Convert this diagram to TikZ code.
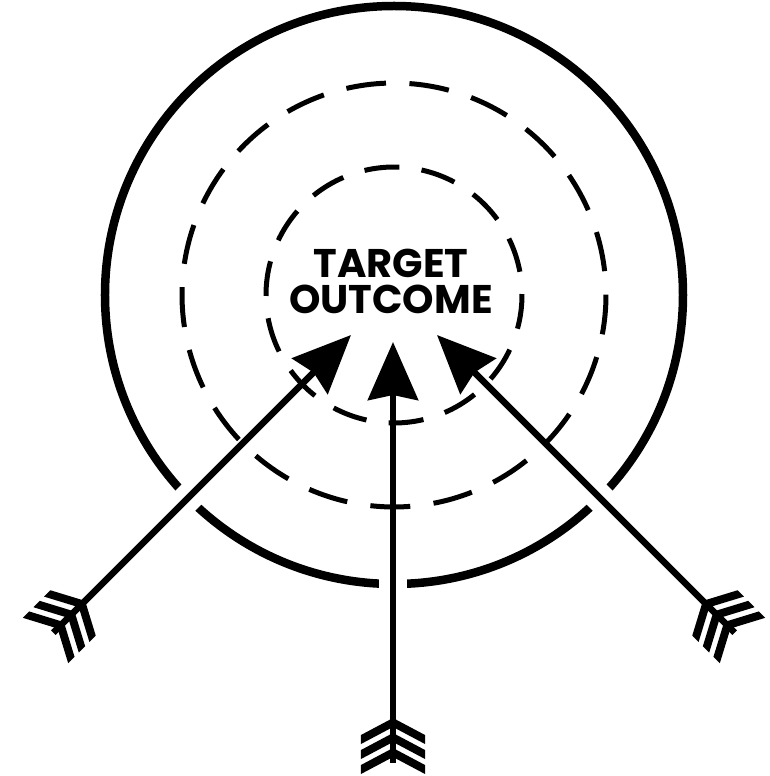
\documentclass[tikz,border=0pt]{standalone}
\usepackage{fontspec}
\newfontfamily\targetfont{Poppins}
\usetikzlibrary{arrows.meta,calc}

\begin{document}
\begin{tikzpicture}[x=1pt,y=1pt,
  ring/.style={line width=8.5pt},
  dashring/.style={line width=5pt},
  halo/.style={white,line width=28pt},
  shaft/.style={line width=6.5pt,-{Stealth[length=58pt,width=50pt,inset=5pt]}},
  feather/.style={fill=black}]
  \useasboundingbox (-394,295) rectangle (376,-481);

  % Outer ring
  \draw[ring] (0,0) circle (289);

  % Arrow ends
  \foreach \nm/\ang/\tx/\ty in {L/45/-43/-40, M/90/-1/-47, R/135/43/-40} {
    \coordinate (tip\nm) at (\tx,\ty);
    \coordinate (nock\nm) at ($(tip\nm)+({\ang+180}:421)$);
  }

  % Gaps where the arrows cross the outer ring
  \foreach \nm in {L,M,R}
    \draw[halo] (nock\nm) -- (tip\nm);

  % Dashed rings
  \foreach \k in {0,...,20} {
    \pgfmathsetmacro\a{-96.4+\k*360/21}
    \draw[dashring] (\a:212) arc[start angle=\a, delta angle=10.8, radius=212];
  }
  \foreach \k in {0,...,13} {
    \pgfmathsetmacro\a{-92.4+\k*360/14}
    \draw[dashring] (\a:128) arc[start angle=\a, delta angle=15.7, radius=128];
  }

  % Arrows
  \foreach \nm/\ang in {L/45, M/90, R/135} {
    \draw[shaft] (nock\nm) -- (tip\nm);
    \begin{scope}[shift={(nock\nm)}, rotate={\ang-90}]
      \foreach \u in {15,30,45}
        \fill[feather] (-32,\u-17) -- (0,\u) -- (32,\u-17) -- (32,\u-26) -- (0,\u-9) -- (-32,\u-26) -- cycle;
    \end{scope}
  }

  % Label
  \node[font=\targetfont\bfseries\fontsize{40}{36}\selectfont, align=center] (label) at (-3,13.5) {TARGET\\OUTCOME};
\end{tikzpicture}
\end{document}
